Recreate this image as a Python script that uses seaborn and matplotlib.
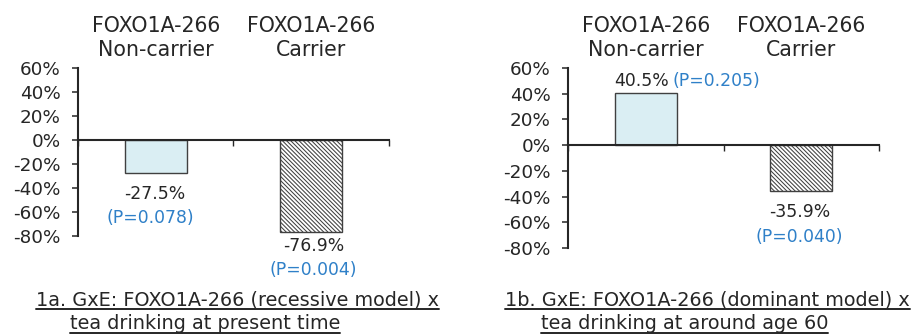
import matplotlib
matplotlib.use("Agg")
import matplotlib.pyplot as plt
import seaborn as sns
import pandas as pd
from matplotlib.lines import Line2D
from matplotlib.ticker import FuncFormatter

# Data
categories = ["FOXO1A-266\nNon-carrier", "FOXO1A-266\nCarrier"]
present_effect = [-27.5, -76.9]
present_p = ["0.078", "0.004"]
age60_effect = [40.5, -35.9]
age60_p = ["0.205", "0.040"]
y_ticks = [60, 40, 20, 0, -20, -40, -60, -80]
title_a = ["1a. GxE: FOXO1A-266 (recessive model) x", "tea drinking at present time"]
title_b = ["1b. GxE: FOXO1A-266 (dominant model) x", "tea drinking at around age 60"]

sns.set_theme(style="white")
plt.rcParams["font.family"] = ["DejaVu Sans"]
plt.rcParams["hatch.linewidth"] = 0.75
plt.rcParams["hatch.color"] = "#2a2a2a"

TEXT = "#262626"
BLUE = "#2F80C8"
FILL = "#DAEEF3"
EDGE = "#404040"

W, H = 912, 335
fig = plt.figure(figsize=(W / 100, H / 100), dpi=100)


def px_box(x0, x1, ytop, ybot):
    return [x0 / W, 1 - ybot / H, (x1 - x0) / W, (ybot - ytop) / H]


def draw_panel(ax, values, pvals, offsets):
    df = pd.DataFrame({"group": categories, "effect": values})
    sns.barplot(data=df, x="group", y="effect", hue="group",
                palette=[FILL, "white"], legend=False, width=0.4,
                edgecolor=EDGE, linewidth=1.0, saturation=1, ax=ax)
    bars = sorted(ax.patches, key=lambda p: p.get_x())
    bars[1].set_hatch("\\" * 8)

    ax.set_xlim(-0.5, 1.5)
    ax.set_ylim(-80, 60)
    ax.set_yticks(y_ticks)
    ax.yaxis.set_major_formatter(FuncFormatter(lambda v, _: f"{v:.0f}%"))
    ax.set_xticks([-0.5, 0.5, 1.5])
    ax.set_xticklabels([])
    ax.set_xlabel("")
    ax.set_ylabel("")
    ax.spines["bottom"].set_position(("data", 0))
    for s in ("top", "right"):
        ax.spines[s].set_visible(False)
    for s in ("left", "bottom"):
        ax.spines[s].set_color(TEXT)
        ax.spines[s].set_linewidth(1.5)
    ax.tick_params(axis="y", left=True, direction="out", length=4.5, width=1.1,
                   color=TEXT, labelsize=13.2, labelcolor=TEXT, pad=8)
    ax.tick_params(axis="x", bottom=True, direction="out", length=4, width=1.0,
                   color=TEXT)

    top = ax.secondary_xaxis("top")
    top.set_xticks([0, 1], labels=categories)
    top.tick_params(length=0, labelsize=14.8, labelcolor=TEXT, pad=6)
    top.spines["top"].set_visible(False)

    for i, (bar, v, p) in enumerate(zip(bars, values, pvals)):
        xc = bar.get_x() + bar.get_width() / 2
        dxv, dyv, dxp, dyp = offsets[i]
        ax.annotate(f"{v:.1f}%", xy=(xc, v), xytext=(dxv, dyv),
                    textcoords="offset pixels", ha="center", va="center",
                    fontsize=12.4, color=TEXT)
        ax.annotate(f"(P={p})", xy=(xc, v), xytext=(dxp, dyp),
                    textcoords="offset pixels", ha="center", va="center",
                    fontsize=12.4, color=BLUE)


ax_a = fig.add_axes(px_box(78, 389, 68, 236))
ax_b = fig.add_axes(px_box(568, 879, 68, 248))

draw_panel(ax_a, present_effect, present_p,
           [(-0.5, -21, -5, -45), (3, -14, 2, -38)])
draw_panel(ax_b, age60_effect, age60_p,
           [(-4.5, 12, 70.5, 12), (-1, -21, -2, -46)])

# Underlined panel captions
captions = []
for lines, xs in ((title_a, (36, 70)), (title_b, (505, 541))):
    for line, x, base in zip(lines, xs, (305.7, 329.3)):
        t = fig.text(x / W, 1 - base / H, line, ha="left", va="baseline",
                     fontsize=13.9, color=TEXT)
        captions.append((t, base))

fig.canvas.draw()
renderer = fig.canvas.get_renderer()
for t, base in captions:
    bb = t.get_window_extent(renderer)
    yy = 1 - (base + 3.2) / H
    fig.add_artist(Line2D([bb.x0 / W, bb.x1 / W], [yy, yy],
                          transform=fig.transFigure, color=TEXT, lw=1.4))

fig.savefig("out.png", dpi=100)
